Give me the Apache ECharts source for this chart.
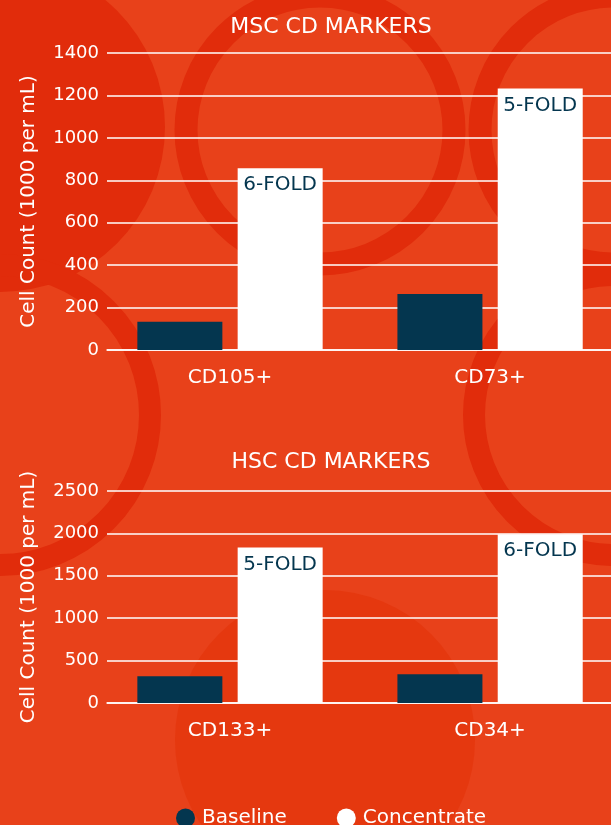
<!DOCTYPE html>
<html>
<head>
<meta charset="utf-8">
<script src="https://cdn.jsdelivr.net/npm/echarts@6/dist/echarts.min.js"></script>
<style>
  html, body { margin: 0; padding: 0; background: #e8411a; }
  #chart { width: 611px; height: 825px; }
</style>
</head>
<body>
<div id="chart"></div>
<script>
// MSC chart data
const mscCategories = ['CD105+', 'CD73+'];
const mscBaseline = [133, 264];
const mscConcentrate = [857, 1233];
const mscFold = ['6-FOLD', '5-FOLD'];
// HSC chart data
const hscCategories = ['CD133+', 'CD34+'];
const hscBaseline = [315, 339];
const hscConcentrate = [1835, 1990];
const hscFold = ['5-FOLD', '6-FOLD'];

const seriesNames = ['Baseline', 'Concentrate'];

var font = 'DejaVu Sans';
var navy = '#04364f';
var dark = '#e12c0b';

var chart = echarts.init(document.getElementById('chart'));

// background rings (decoration only)
function ring(cx, cy, r, w) {
    return { type: 'circle', z: -100, silent: true, shape: { cx: cx, cy: cy, r: r },
        style: { fill: 'none', stroke: dark, lineWidth: w } };
}

// category index -> [x, y] pairs, x axis is a value axis so the groups sit where the original has them
function pairs(values) {
    return values.map(function (v, i) { return [i, v]; });
}

function yAxis(gridIndex, max, interval) {
    return {
        type: 'value',
        gridIndex: gridIndex,
        min: 0,
        max: max,
        interval: interval,
        name: 'Cell Count (1000 per mL)',
        nameLocation: 'middle',
        nameGap: 68,
        nameTextStyle: { color: '#fff', fontSize: 20, fontFamily: font },
        axisLine: { show: false, onZero: false },
        axisTick: { show: false },
        axisLabel: { color: '#fff', fontSize: 18, fontFamily: font, margin: 8,
            formatter: function (v) { return String(v); } },
        splitLine: { lineStyle: { color: '#fff', width: 1.5 } }
    };
}

function xAxis(gridIndex, cats) {
    return {
        type: 'value',
        gridIndex: gridIndex,
        min: -0.473,
        max: 1.465,
        splitLine: { show: false },
        axisLine: { lineStyle: { color: '#fff', width: 1.5 } },
        axisTick: { show: false },
        axisLabel: { color: '#fff', fontSize: 20, fontFamily: font, margin: 18,
            customValues: [0, 1],
            formatter: function (v) { return cats[Math.round(v)]; } }
    };
}

function foldLabel(folds) {
    return {
        show: true,
        position: 'insideTop',
        distance: 7,
        color: navy,
        fontSize: 20,
        fontFamily: font,
        formatter: function (p) { return folds[p.dataIndex]; }
    };
}

var option = {
    backgroundColor: '#e8411a',
    animation: false,
    graphic: {
        elements: [
            { type: 'circle', z: -100, silent: true, shape: { cx: 0, cy: 127, r: 165 }, style: { fill: dark } },
            ring(320, 130, 134, 23),
            ring(614, 130, 134, 23),
            ring(0, 415, 150, 22),
            ring(614, 415, 140, 22),
            { type: 'circle', z: -100, silent: true, shape: { cx: 325, cy: 740, r: 150 }, style: { fill: '#e5380f' } }
        ]
    },
    title: [
        { text: 'MSC CD MARKERS', left: 326, top: 11, textAlign: 'center',
          textStyle: { color: '#fff', fontSize: 22, fontWeight: 'normal', fontFamily: font } },
        { text: 'HSC CD MARKERS', left: 326, top: 446, textAlign: 'center',
          textStyle: { color: '#fff', fontSize: 22, fontWeight: 'normal', fontFamily: font } }
    ],
    legend: {
        data: seriesNames,
        left: 171,
        top: 803,
        icon: 'circle',
        itemWidth: 19,
        itemHeight: 19,
        itemGap: 50,
        textStyle: { color: '#fff', fontSize: 20, fontFamily: font, padding: [0, 0, 0, 2] }
    },
    color: [navy, '#ffffff'],
    grid: [
        { left: 107, right: 0, top: 53, height: 297 },
        { left: 107, right: 0, top: 491, height: 212 }
    ],
    xAxis: [xAxis(0, mscCategories), xAxis(1, hscCategories)],
    yAxis: [yAxis(0, 1400, 200), yAxis(1, 2500, 500)],
    series: [
        { name: seriesNames[0], type: 'bar', xAxisIndex: 0, yAxisIndex: 0, barWidth: 85, barGap: '18%',
          itemStyle: { color: navy }, data: pairs(mscBaseline) },
        { name: seriesNames[1], type: 'bar', xAxisIndex: 0, yAxisIndex: 0, barWidth: 85, barGap: '18%',
          itemStyle: { color: '#fff' }, label: foldLabel(mscFold), data: pairs(mscConcentrate) },
        { name: seriesNames[0], type: 'bar', xAxisIndex: 1, yAxisIndex: 1, barWidth: 85, barGap: '18%',
          itemStyle: { color: navy }, data: pairs(hscBaseline) },
        { name: seriesNames[1], type: 'bar', xAxisIndex: 1, yAxisIndex: 1, barWidth: 85, barGap: '18%',
          itemStyle: { color: '#fff' }, label: foldLabel(hscFold), data: pairs(hscConcentrate) }
    ]
};

chart.setOption(option);
</script>
</body>
</html>
